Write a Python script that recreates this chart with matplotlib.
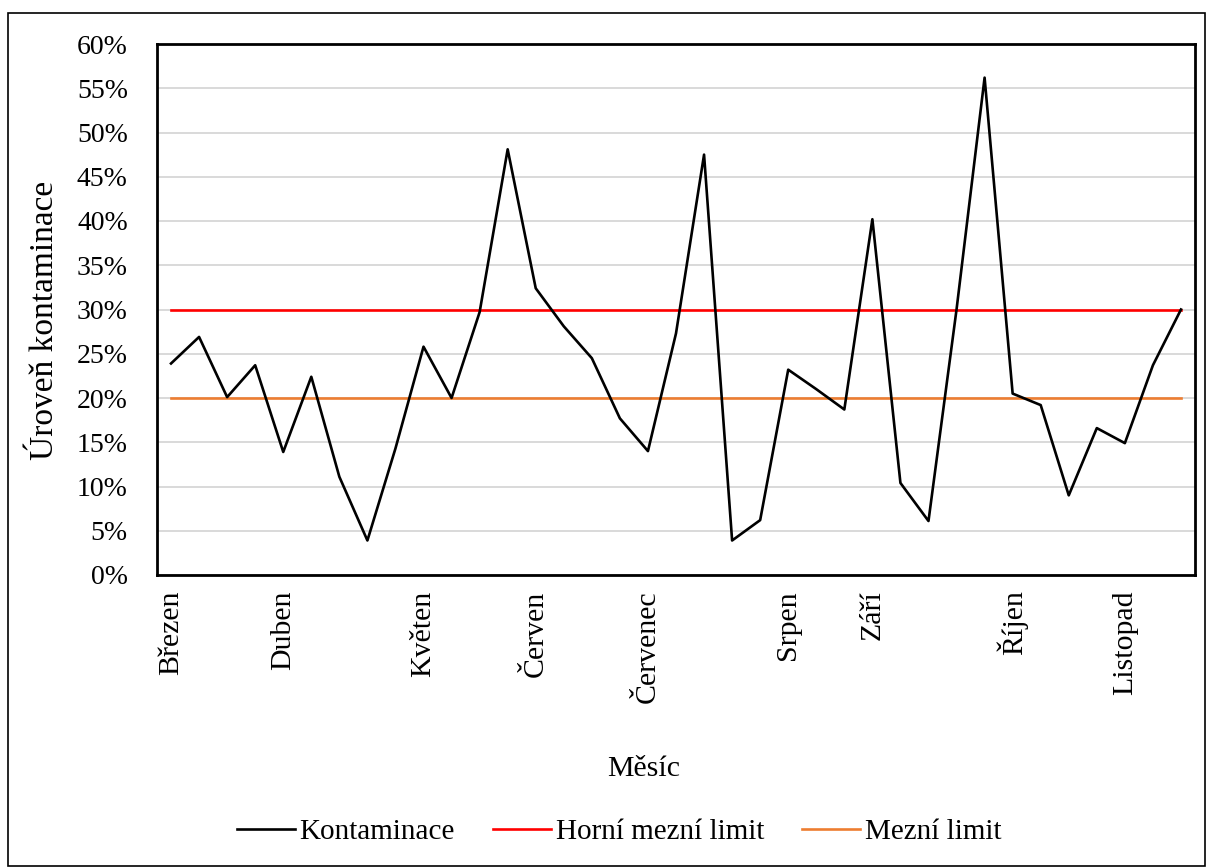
import matplotlib.pyplot as plt
from matplotlib.patches import Rectangle
from matplotlib.ticker import FuncFormatter, MultipleLocator

plt.rcParams['font.family'] = ['Liberation Serif', 'DejaVu Serif']

# kategorie osy x (popsány jen první měření v měsíci)
mesice = ['Březen', '', '', '', 'Duben', '', '', '', '', 'Květen',
          '', '', '', 'Červen', '', '', '', 'Červenec', '', '', '',
          '', 'Srpen', '', '', 'Září', '', '', '', '', 'Říjen',
          '', '', '', 'Listopad', '', '']
kontaminace = [23.9, 26.9, 20.1, 23.7, 13.9, 22.4, 11.1, 3.9, 14.3, 25.8,
               20.0, 29.7, 48.1, 32.4, 28.1, 24.5, 17.7, 14.0, 27.3, 47.5,
               3.9, 6.2, 23.2, 21.0, 18.7, 40.2, 10.4, 6.1, 30.0, 56.2,
               20.5, 19.2, 9.0, 16.6, 14.9, 23.7, 30.0]
horni_limit = 30.0
mezni_limit = 20.0

x = list(range(len(mesice)))
y = [v / 100 for v in kontaminace]

fig = plt.figure(figsize=(12.08, 8.67), dpi=100)
ax = fig.add_axes([157 / 1208, 1 - 575 / 867, (1195 - 157) / 1208, (575 - 44) / 867])

ax.plot(x, y, color='black', lw=1.9, label='Kontaminace', zorder=4)
ax.plot(x, [horni_limit / 100] * len(x), color='#FF0000', lw=1.9,
        label='Horní mezní limit', zorder=3)
ax.plot(x, [mezni_limit / 100] * len(x), color='#ED7D31', lw=1.9,
        label='Mezní limit', zorder=3)

ax.set_xlim(-0.5, len(x) - 0.5)
ax.set_ylim(0, 0.6)
ax.yaxis.set_major_locator(MultipleLocator(0.05))
ax.yaxis.set_major_formatter(FuncFormatter(lambda v, _: '%d%%' % round(v * 100)))
ax.grid(axis='y', color='#D9D9D9', lw=1.4, zorder=0)
ax.set_axisbelow(True)

ax.set_xticks(x)
ax.set_xticklabels(mesice, rotation=90)
ax.tick_params(axis='x', length=0, pad=11, labelsize=21.5)
ax.tick_params(axis='y', length=0, pad=21, labelsize=20)
for s in ax.spines.values():
    s.set_linewidth(2)
    s.set_color('black')

fig.text(45 / 1208, 1 - 320 / 867, 'Úroveň kontaminace', rotation=90,
         ha='center', va='center', fontsize=24)
fig.text(644 / 1208, 1 - 769 / 867, 'Měsíc', ha='center', va='center', fontsize=21.5)

fig.legend(loc='center', bbox_to_anchor=(619 / 1208, 1 - 832 / 867), ncol=3,
           frameon=False, fontsize=21, handlelength=2.0, handletextpad=0.15,
           columnspacing=1.3)

# rámeček kolem celého grafu
fig.patches.append(Rectangle((8 / 1208, 1 / 867), 1197 / 1208, 853 / 867,
                             transform=fig.transFigure, fill=False,
                             edgecolor='black', lw=1.2))

fig.savefig('out.png', dpi=100)
